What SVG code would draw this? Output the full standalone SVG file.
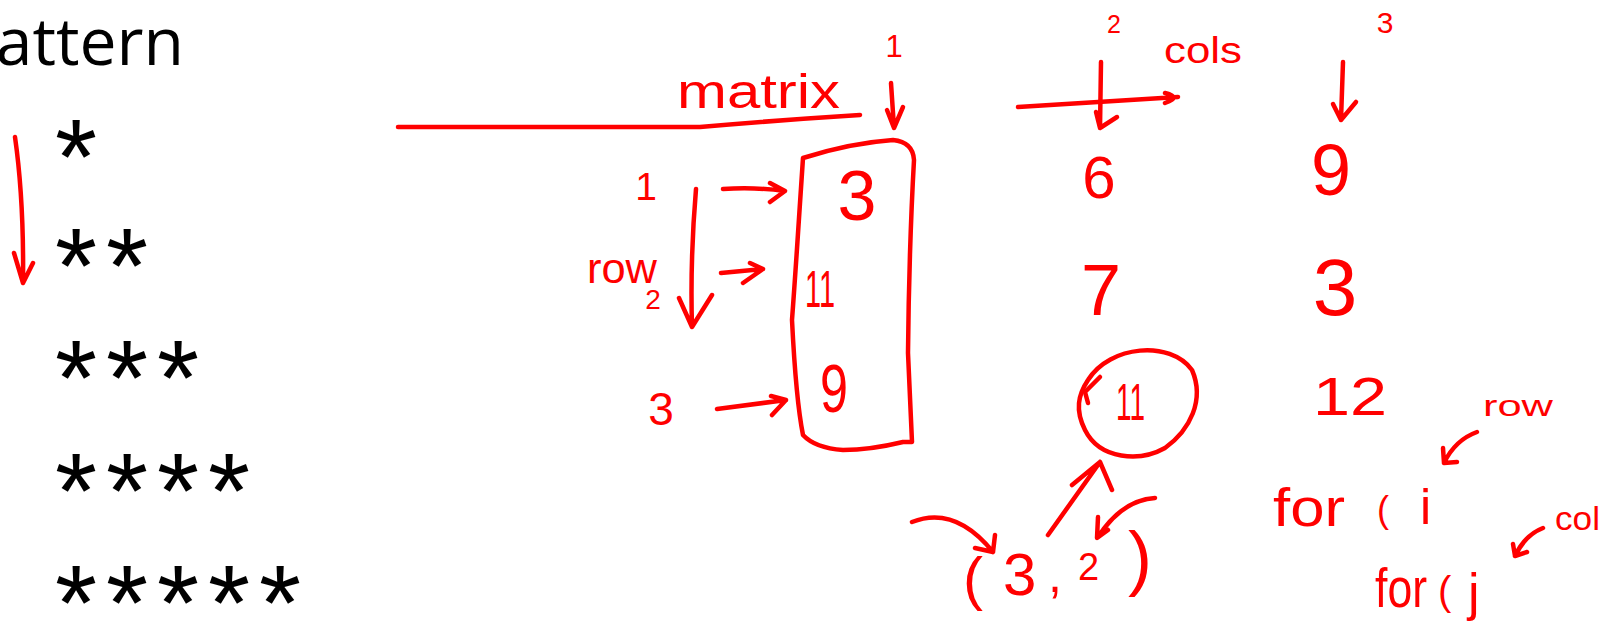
<svg xmlns="http://www.w3.org/2000/svg" width="1614" height="629" viewBox="0 0 1614 629">
<style>
.blk{fill:#000;font-family:"Open Sans","Liberation Sans",sans-serif}
.star{fill:#000;font-family:"Liberation Sans",Arial,sans-serif;font-size:108px}
.hw{fill:#ff0000;font-family:"Liberation Sans",Arial,sans-serif}
.ink{fill:none;stroke:#ff0000;stroke-width:4.5;stroke-linecap:round;stroke-linejoin:round}
</style>
<rect width="1614" height="629" fill="#ffffff"/>
<g id="title"><text class="blk" x="184" y="65" font-size="66" text-anchor="end">Pattern</text></g>
<g id="stars">
<text class="star" x="55" y="194">*</text>
<text class="star" x="55 106" y="303">**</text>
<text class="star" x="55 106 157" y="415">***</text>
<text class="star" x="55 106 157 208" y="528">****</text>
<text class="star" x="55 106 157 208 259" y="640">*****</text>
</g>
<g id="labels">
<text class="hw" x="677" y="108" font-size="48" textLength="163" lengthAdjust="spacingAndGlyphs">matrix</text>
<text class="hw" x="894" y="57" font-size="31" text-anchor="middle">1</text>
<text class="hw" x="1114" y="33" font-size="25" text-anchor="middle">2</text>
<text class="hw" x="1385" y="33" font-size="30" text-anchor="middle">3</text>
<text class="hw" x="1164" y="63" font-size="36" textLength="78" lengthAdjust="spacingAndGlyphs">cols</text>
<text class="hw" x="646" y="200" font-size="39" text-anchor="middle">1</text>
<text class="hw" x="587" y="283" font-size="42" textLength="70" lengthAdjust="spacingAndGlyphs">row</text>
<text class="hw" x="653" y="309" font-size="28" text-anchor="middle">2</text>
<text class="hw" x="661" y="425" font-size="46" text-anchor="middle">3</text>
</g>
<g id="column1">
<text class="hw" x="857" y="220" font-size="70" text-anchor="middle">3</text>
<text class="hw" x="805" y="307" font-size="52" textLength="30" lengthAdjust="spacingAndGlyphs">11</text>
<text class="hw" x="820" y="412" font-size="68" textLength="28" lengthAdjust="spacingAndGlyphs">9</text>
<path class="ink" d="M803 158 Q850 143 893 140 Q913 142 914 160 Q909 250 908 353 L912 442 L903 442 Q870 450 843 450 Q815 448 803 435 Q796 400 792 320 Q795 280 800 203 Z"/>
</g>
<g id="column2">
<text class="hw" x="1099" y="198" font-size="60" text-anchor="middle">6</text>
<text class="hw" x="1101" y="315" font-size="72" text-anchor="middle">7</text>
<text class="hw" x="1116" y="420" font-size="52" textLength="29" lengthAdjust="spacingAndGlyphs">11</text>
<path class="ink" d="M1088 380 C1110 345 1170 340 1192 370 C1205 400 1190 430 1165 448 C1140 462 1100 460 1085 430 C1075 410 1078 395 1088 380 Z"/>
<path class="ink" d="M1100 377 L1085 392 L1088 403"/>
</g>
<g id="column3">
<text class="hw" x="1331" y="195" font-size="72" text-anchor="middle">9</text>
<text class="hw" x="1335" y="315" font-size="80" text-anchor="middle">3</text>
<text class="hw" x="1313" y="415" font-size="53" textLength="74" lengthAdjust="spacingAndGlyphs">12</text>
</g>
<g id="index">
<text class="hw"><tspan x="963" y="599" font-size="60">(</tspan><tspan x="1003" y="595" font-size="60">3</tspan><tspan x="1048" y="592" font-size="50">,</tspan><tspan x="1078" y="580" font-size="38">2</tspan><tspan x="1128" y="582" font-size="72">)</tspan></text>
</g>
<g id="loops">
<text class="hw" x="1483" y="416" font-size="30" textLength="70" lengthAdjust="spacingAndGlyphs">row</text>
<text class="hw"><tspan x="1273" y="526" font-size="54" textLength="72" lengthAdjust="spacingAndGlyphs">for</tspan><tspan x="1377" y="522" font-size="36">(</tspan><tspan x="1420" y="524" font-size="50">i</tspan></text>
<text class="hw" x="1555" y="530" font-size="34" textLength="45" lengthAdjust="spacingAndGlyphs">col</text>
<text class="hw"><tspan x="1375" y="607" font-size="56" textLength="52" lengthAdjust="spacingAndGlyphs">for</tspan><tspan x="1438" y="605" font-size="40">(</tspan><tspan x="1468" y="610" font-size="52">j</tspan></text>
</g>
<g id="connectors">
<path class="ink" d="M15 137 Q24 200 23 283 M14 253 L23 283 L33 263"/>
<path class="ink" d="M398 127 L700 127 Q780 120 860 115"/>
<path class="ink" d="M891 83 L894 128 M887 110 L894 128 L903 107"/>
<path class="ink" d="M1101 62 L1100 128 M1096 112 L1100 128 L1117 117"/>
<path class="ink" d="M1018 107 L1178 97 M1165 93 Q1182 97 1165 103"/>
<path class="ink" d="M1343 62 L1341 120 M1333 104 L1341 120 L1356 102"/>
<path class="ink" d="M723 189 Q755 187 785 191 M770 183 L785 191 L770 202"/>
<path class="ink" d="M696 189 Q690 260 692 327 M679 298 L692 327 L712 295"/>
<path class="ink" d="M721 273 L763 269 M750 263 L763 269 L743 283"/>
<path class="ink" d="M717 409 L786 400 M771 396 L786 400 L772 415"/>
<path class="ink" d="M1048 535 L1100 462 M1072 485 L1100 462 L1112 490"/>
<path class="ink" d="M1155 498 Q1122 500 1098 537 M1098 517 L1097 538 L1108 530"/>
<path class="ink" d="M912 522 Q955 505 993 552 M975 548 L993 552 L995 535"/>
<path class="ink" d="M1477 432 Q1455 440 1444 463 M1443 448 L1444 463 L1457 462"/>
<path class="ink" d="M1543 528 Q1525 535 1515 556 M1513 544 L1515 556 L1527 552"/>
</g>
</svg>
